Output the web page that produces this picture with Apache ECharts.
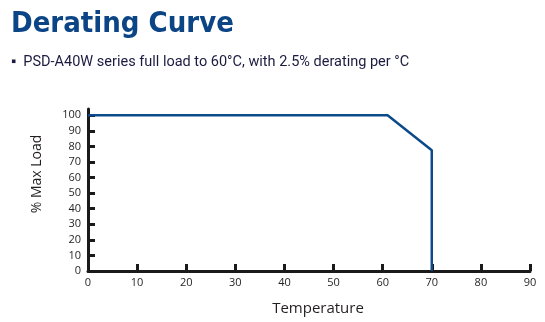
<!DOCTYPE html>
<html>
<head>
<meta charset="utf-8">
<script src="https://cdn.jsdelivr.net/npm/echarts@6/dist/echarts.min.js"></script>
<style>
  html, body { margin: 0; padding: 0; background: #ffffff; }
  #chart { width: 545px; height: 322px; }
</style>
</head>
<body>
<div id="chart"></div>
<script>
// Derating curve: output load (%) versus ambient temperature (°C)
const temperatures = [0, 61, 70, 70];
const loadPercent = [100, 100, 77.5, 0];
const xTicks = [0, 10, 20, 30, 40, 50, 60, 70, 80, 90];
const yTicks = [0, 10, 20, 30, 40, 50, 60, 70, 80, 90, 100];

const titleText = 'Derating Curve';
const noteText = 'PSD-A40W series full load to 60°C, with 2.5% derating per °C';

const axisColor = '#1a1a1a';
const curveColor = '#0d4a89';

const chart = echarts.init(document.getElementById('chart'), null, { renderer: 'canvas' });

chart.setOption({
  backgroundColor: '#ffffff',
  animation: false,
  title: [
    {
      text: titleText,
      left: 6,
      top: 5,
      textStyle: {
        fontFamily: 'DejaVu Sans Condensed',
        fontWeight: 'bold',
        fontSize: 29,
        color: '#0b4586'
      }
    },
    {
      text: '▪  ' + noteText,
      left: 6,
      top: 50,
      textStyle: {
        fontFamily: 'Roboto',
        fontWeight: 'normal',
        fontSize: 14.5,
        color: '#1b1b40'
      }
    }
  ],
  grid: { left: 88, right: 15, top: 109, bottom: 51, containLabel: false },
  xAxis: {
    type: 'value',
    min: 0,
    max: 90,
    interval: 10,
    name: 'Temperature',
    nameLocation: 'middle',
    nameGap: 30,
    nameTextStyle: {
      fontFamily: 'Open Sans',
      fontSize: 15,
      color: '#231f20',
      padding: [0, 0, 0, 18]
    },
    axisLine: { show: true, lineStyle: { color: axisColor, width: 3 } },
    axisTick: {
      show: true,
      inside: true,
      length: 7,
      customValues: xTicks,
      lineStyle: { color: axisColor, width: 3 }
    },
    axisLabel: {
      customValues: xTicks,
      margin: 6,
      fontFamily: 'Open Sans',
      fontSize: 11,
      color: '#231f20'
    },
    splitLine: { show: false }
  },
  yAxis: {
    type: 'value',
    min: 0,
    max: 104,
    name: '% Max Load',
    nameLocation: 'middle',
    nameGap: 44,
    nameRotate: 90,
    nameTextStyle: {
      fontFamily: 'Open Sans',
      fontSize: 14,
      color: '#231f20',
      padding: [0, 0, 0, 32]
    },
    axisLine: { show: true, lineStyle: { color: axisColor, width: 3 } },
    axisTick: {
      show: true,
      inside: true,
      length: 7,
      customValues: yTicks,
      lineStyle: { color: axisColor, width: 3 }
    },
    axisLabel: {
      customValues: yTicks,
      margin: 7,
      fontFamily: 'Open Sans',
      fontSize: 11,
      color: '#231f20'
    },
    splitLine: { show: false }
  },
  series: [
    {
      type: 'line',
      data: temperatures.map((t, i) => [t, loadPercent[i]]),
      showSymbol: false,
      symbol: 'none',
      lineStyle: { color: curveColor, width: 2.5 },
      z: 3
    }
  ]
});
</script>
</body>
</html>
